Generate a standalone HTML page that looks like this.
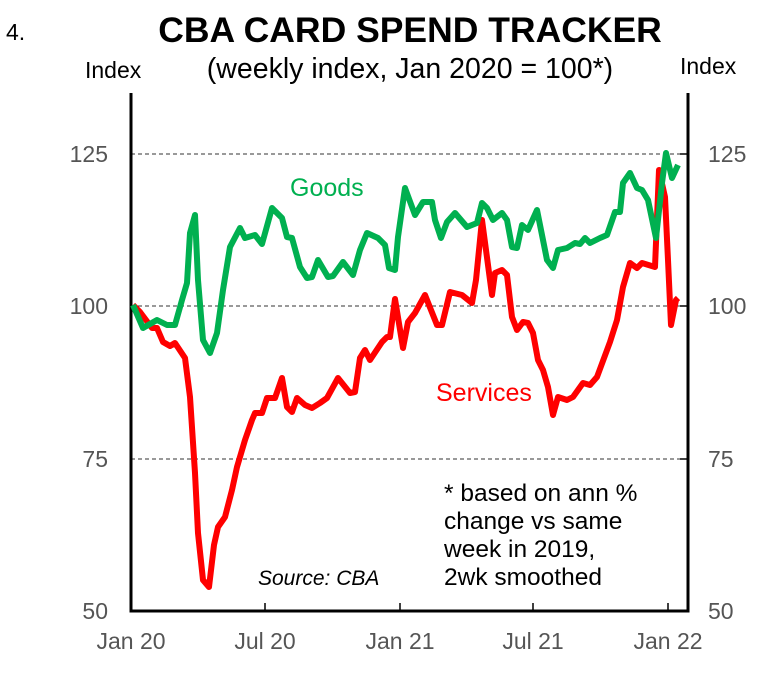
<!DOCTYPE html>
<html><head><meta charset="utf-8"><style>
html,body{margin:0;padding:0;background:#fff;}
svg{display:block;font-family:"Liberation Sans",Arial,sans-serif;}
</style></head><body>
<svg width="765" height="681" viewBox="0 0 765 681" xmlns="http://www.w3.org/2000/svg">
<rect width="765" height="681" fill="#fff"/>
<text x="6" y="40" font-size="23" fill="#000">4.</text>
<text x="410" y="42" font-size="35.5" font-weight="bold" text-anchor="middle" fill="#000">CBA CARD SPEND TRACKER</text>
<text x="410" y="78" font-size="28.5" text-anchor="middle" fill="#000">(weekly index, Jan 2020 = 100*)</text>
<text x="85" y="78" font-size="23" fill="#000">Index</text>
<text x="680" y="74" font-size="23" fill="#000">Index</text>
<g stroke="#333" stroke-width="1" stroke-dasharray="4,3">
<line x1="131" y1="154" x2="688" y2="154"/>
<line x1="131" y1="306" x2="688" y2="306"/>
<line x1="131" y1="459" x2="688" y2="459"/>
</g>
<g stroke="#000" stroke-width="1.5">
<line x1="680" y1="154" x2="688" y2="154"/>
<line x1="680" y1="306" x2="688" y2="306"/>
<line x1="680" y1="459" x2="688" y2="459"/>
<line x1="265" y1="603" x2="265" y2="611"/>
<line x1="400" y1="603" x2="400" y2="611"/>
<line x1="533" y1="603" x2="533" y2="611"/>
<line x1="668" y1="603" x2="668" y2="611"/>
</g>
<path d="M131,93 V611 H688 V93" fill="none" stroke="#000" stroke-width="3"/>
<g font-size="23" fill="#555">
<text x="108" y="162" text-anchor="end">125</text>
<text x="108" y="314" text-anchor="end">100</text>
<text x="108" y="467" text-anchor="end">75</text>
<text x="108" y="619" text-anchor="end">50</text>
<text x="708" y="162">125</text>
<text x="708" y="314">100</text>
<text x="708" y="467">75</text>
<text x="708" y="619">50</text>
<text x="131" y="649" text-anchor="middle">Jan 20</text>
<text x="265" y="649" text-anchor="middle">Jul 20</text>
<text x="400" y="649" text-anchor="middle">Jan 21</text>
<text x="533" y="649" text-anchor="middle">Jul 21</text>
<text x="668" y="649" text-anchor="middle">Jan 22</text>
</g>
<polyline fill="none" stroke="#ff0000" stroke-width="6" stroke-linejoin="round" points="133,305 140,312 152,328 157,328 163,342 170,346 175,343 185,358 190,397 195,473 198,533 203,580 209,587 214,545 218,527 225,517 232,490 237,467 245,440 252,420 255,413 262,413 267,398 275,398 282,378 287,407 292,412 297,398 305,405 312,408 320,403 327,398 338,378 350,393 355,392 360,358 365,350 370,360 382,342 387,337 390,337 395,299 403,348 408,322 415,313 425,295 437,325 442,325 450,292 462,295 472,303 476,280 482,220 492,295 495,273 502,270 507,275 512,317 517,330 523,322 528,323 533,333 538,360 543,370 548,387 553,415 558,397 567,400 573,397 583,383 590,385 597,377 610,342 617,320 623,287 630,263 637,268 642,263 655,267 659,170 665,197 668,260 671,325 676,300 678,298"/>
<polyline fill="none" stroke="#00b050" stroke-width="6" stroke-linejoin="round" points="133,305 143,328 157,320 167,325 175,325 182,300 187,283 190,233 195,215 198,280 203,340 210,353 217,333 223,290 230,247 240,228 245,238 255,235 262,244 272,208 282,218 287,237 292,238 300,267 307,278 312,277 318,260 328,277 333,276 343,262 353,275 360,250 367,233 378,238 385,245 389,268 395,270 398,237 405,188 415,215 423,202 432,202 435,220 441,238 447,222 455,213 467,227 477,223 482,203 487,208 493,220 502,213 507,220 512,247 517,248 522,225 528,230 537,210 547,260 553,268 558,250 567,248 575,243 580,244 585,238 590,243 600,238 607,235 615,212 620,212 623,183 630,173 637,188 642,190 648,200 656,238 662,183 666,153 672,178 678,165"/>
<text x="290" y="196" font-size="25" fill="#00b050">Goods</text>
<text x="436" y="401" font-size="25" fill="#ff0000">Services</text>
<text x="258" y="585" font-size="21" font-style="italic" fill="#000">Source: CBA</text>
<g font-size="24.5" fill="#000">
<text x="444" y="501">* based on ann %</text>
<text x="444" y="529">change vs same</text>
<text x="444" y="557">week in 2019,</text>
<text x="444" y="585">2wk smoothed</text>
</g>
</svg>
</body></html>
